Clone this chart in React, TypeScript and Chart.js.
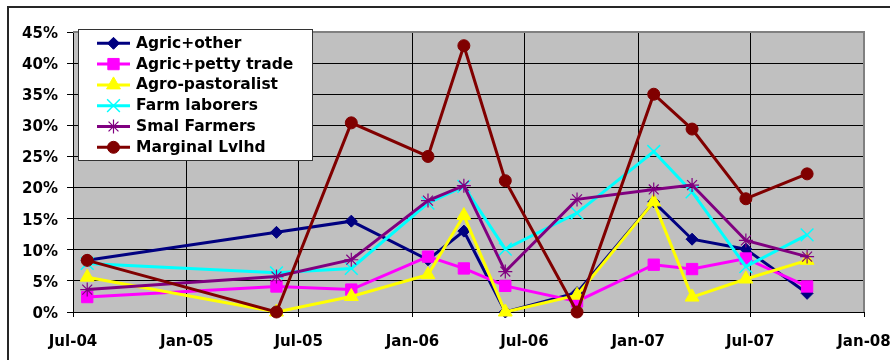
import React, { useEffect, useRef } from 'react';
import { Chart, registerables } from 'chart.js';
import { drawPoint } from 'chart.js/helpers';

Chart.register(...registerables);

// Survey rounds (dates) and the share of households in each livelihood group
const surveyDates = [
  '2004-07-24', '2005-05-26', '2005-09-24', '2006-01-26', '2006-03-25', '2006-05-31',
  '2006-09-24', '2007-01-26', '2007-03-29', '2007-06-24', '2007-10-01',
];

const seriesNames = [
  'Agric+other',
  'Agric+petty trade',
  'Agro-pastoralist',
  'Farm laborers',
  'Smal Farmers',
  'Marginal Lvlhd',
];

const agricOther = [8.3, 12.8, 14.6, 8.4, 13.0, 0, 3.1, 17.7, 11.7, 10.1, 3.0];
const agricPettyTrade = [2.4, 4.1, 3.6, 8.9, 7.0, 4.2, 1.7, 7.6, 6.9, 8.6, 4.1];
const agroPastoralist = [5.6, 0, 2.5, 6.0, 15.5, 0, 2.7, 17.7, 2.4, 5.3, 8.3];
const farmLaborers = [7.8, 6.3, 7.0, 17.5, 20.2, 10.1, 15.9, 25.8, 19.3, 7.3, 12.4];
const smalFarmers = [3.6, 5.7, 8.4, 17.9, 20.3, 6.5, 18.1, 19.7, 20.4, 11.5, 8.9];
const marginalLvlhd = [8.3, 0, 30.4, 25.0, 42.8, 21.1, 0, 35.0, 29.4, 18.2, 22.2];

// Half-yearly axis ticks
const tickDates = [
  '2004-07-01', '2005-01-01', '2005-07-01', '2006-01-01',
  '2006-07-01', '2007-01-01', '2007-07-01', '2008-01-01',
];
const tickLabels = ['Jul-04', 'Jan-05', 'Jul-05', 'Jan-06', 'Jul-06', 'Jan-07', 'Jul-07', 'Jan-08'];

const seriesValues = [agricOther, agricPettyTrade, agroPastoralist, farmLaborers, smalFarmers, marginalLvlhd];

const seriesStyles = [
  { color: '#000080', pointStyle: 'rectRot', radius: 6, pointBorderWidth: 1 },
  { color: '#ff00ff', pointStyle: 'rect', radius: 8, pointBorderWidth: 1 },
  { color: '#ffff00', pointStyle: 'triangle', radius: 8, pointBorderWidth: 1 },
  { color: '#00ffff', pointStyle: 'crossRot', radius: 9, pointBorderWidth: 1.5 },
  { color: '#800080', pointStyle: 'star', radius: 7, pointBorderWidth: 1.2 },
  { color: '#800000', pointStyle: 'circle', radius: 6, pointBorderWidth: 1 },
];

const FONT_FAMILY = '"DejaVu Sans", Verdana, sans-serif';

const toDay = (iso: string) => Date.parse(iso + 'T00:00:00Z') / 86400000;

const chartDecor = {
  id: 'chartDecor',
  beforeDraw(chart: any) {
    const { ctx, chartArea: a, width, height } = chart;
    ctx.save();
    ctx.fillStyle = '#ffffff';
    ctx.fillRect(0, 0, width, height);
    ctx.fillStyle = '#c0c0c0';
    ctx.fillRect(a.left, a.top, a.right - a.left, a.bottom - a.top);
    // outer chart frame
    ctx.strokeStyle = '#262626';
    ctx.lineWidth = 2;
    ctx.beginPath();
    ctx.moveTo(8, height);
    ctx.lineTo(8, 7);
    ctx.lineTo(width, 7);
    ctx.stroke();
    ctx.restore();
  },
  beforeDatasetsDraw(chart: any) {
    const { ctx, chartArea: a } = chart;
    ctx.save();
    ctx.strokeStyle = '#808080';
    ctx.lineWidth = 2;
    ctx.beginPath();
    ctx.moveTo(a.left, a.top);
    ctx.lineTo(a.right, a.top);
    ctx.lineTo(a.right, a.bottom);
    ctx.stroke();
    ctx.restore();
  },
  afterDraw(chart: any) {
    const { ctx } = chart;
    const box = { x: 78, y: 29, w: 234, h: 131 };
    ctx.save();
    ctx.fillStyle = '#ffffff';
    ctx.fillRect(box.x, box.y, box.w, box.h);
    ctx.strokeStyle = '#333333';
    ctx.lineWidth = 1;
    ctx.strokeRect(box.x + 0.5, box.y + 0.5, box.w, box.h);
    chart.data.datasets.forEach((ds: any, i: number) => {
      const y = 43.3 + i * 20.8;
      ctx.strokeStyle = ds.borderColor;
      ctx.lineWidth = 3;
      ctx.beginPath();
      ctx.moveTo(97, y);
      ctx.lineTo(130, y);
      ctx.stroke();
      ctx.fillStyle = ds.pointBackgroundColor;
      ctx.strokeStyle = ds.pointBorderColor;
      ctx.lineWidth = ds.pointBorderWidth;
      drawPoint(ctx, { pointStyle: ds.pointStyle, radius: ds.pointRadius, rotation: 0, borderWidth: ds.pointBorderWidth }, 113.5, y);
      ctx.fillStyle = '#000000';
      ctx.font = 'bold 15.5px ' + FONT_FAMILY;
      ctx.textAlign = 'left';
      ctx.textBaseline = 'middle';
      ctx.fillText(ds.label, 136, y + 0.5);
    });
    ctx.restore();
  },
};

export default function App() {
  const canvasRef = useRef<HTMLCanvasElement | null>(null);

  useEffect(() => {
    if (!canvasRef.current) return;
    const datasets = seriesNames.map((name, i) => {
      const s = seriesStyles[i];
      return {
        label: name,
        data: surveyDates.map((d, j) => ({ x: toDay(d), y: seriesValues[i][j] })),
        borderColor: s.color,
        backgroundColor: s.color,
        pointBackgroundColor: s.color,
        pointBorderColor: s.color,
        pointStyle: s.pointStyle,
        pointRadius: s.radius,
        pointBorderWidth: s.pointBorderWidth,
        borderWidth: 3,
        tension: 0,
        clip: false,
        order: seriesNames.length - i,
      };
    });

    const chart = new Chart(canvasRef.current, {
      type: 'line',
      data: { datasets },
      plugins: [chartDecor],
      options: {
        animation: false,
        responsive: false,
        maintainAspectRatio: false,
        layout: { padding: { top: 32, right: 26, left: 0, bottom: 0 } },
        plugins: { legend: { display: false }, tooltip: { enabled: false } },
        scales: {
          x: {
            type: 'linear',
            min: toDay(tickDates[0]),
            max: toDay(tickDates[tickDates.length - 1]),
            afterBuildTicks: (scale: any) => {
              scale.ticks = tickDates.map((d) => ({ value: toDay(d) }));
            },
            afterFit: (scale: any) => {
              scale.height = 48;
              scale.paddingLeft = 0;
              scale.paddingRight = 0;
            },
            grid: { color: '#000000', lineWidth: 1, tickLength: 5, drawTicks: true },
            border: { color: '#000000', width: 1 },
            ticks: {
              autoSkip: false,
              maxRotation: 0,
              padding: 16,
              color: '#000000',
              font: { family: FONT_FAMILY, size: 15, weight: 'bold' },
              callback: (_v: any, idx: number) => tickLabels[idx],
            },
          },
          y: {
            min: 0,
            max: 45,
            afterFit: (scale: any) => {
              scale.width = 73;
              scale.paddingTop = 0;
              scale.paddingBottom = 0;
            },
            grid: { color: '#000000', lineWidth: 1, tickLength: 6, drawTicks: true },
            border: { color: '#000000', width: 1 },
            ticks: {
              stepSize: 5,
              padding: 9,
              labelOffset: 2,
              color: '#000000',
              font: { family: FONT_FAMILY, size: 15, weight: 'bold' },
              callback: (v: any) => v + '%',
            },
          },
        },
      },
    } as any);

    return () => chart.destroy();
  }, []);

  return (
    <div style={{ position: 'fixed', left: 0, top: 0, width: 890, height: 360, background: '#ffffff' }}>
      <canvas ref={canvasRef} width={890} height={360} style={{ display: 'block', width: 890, height: 360 }} />
    </div>
  );
}
